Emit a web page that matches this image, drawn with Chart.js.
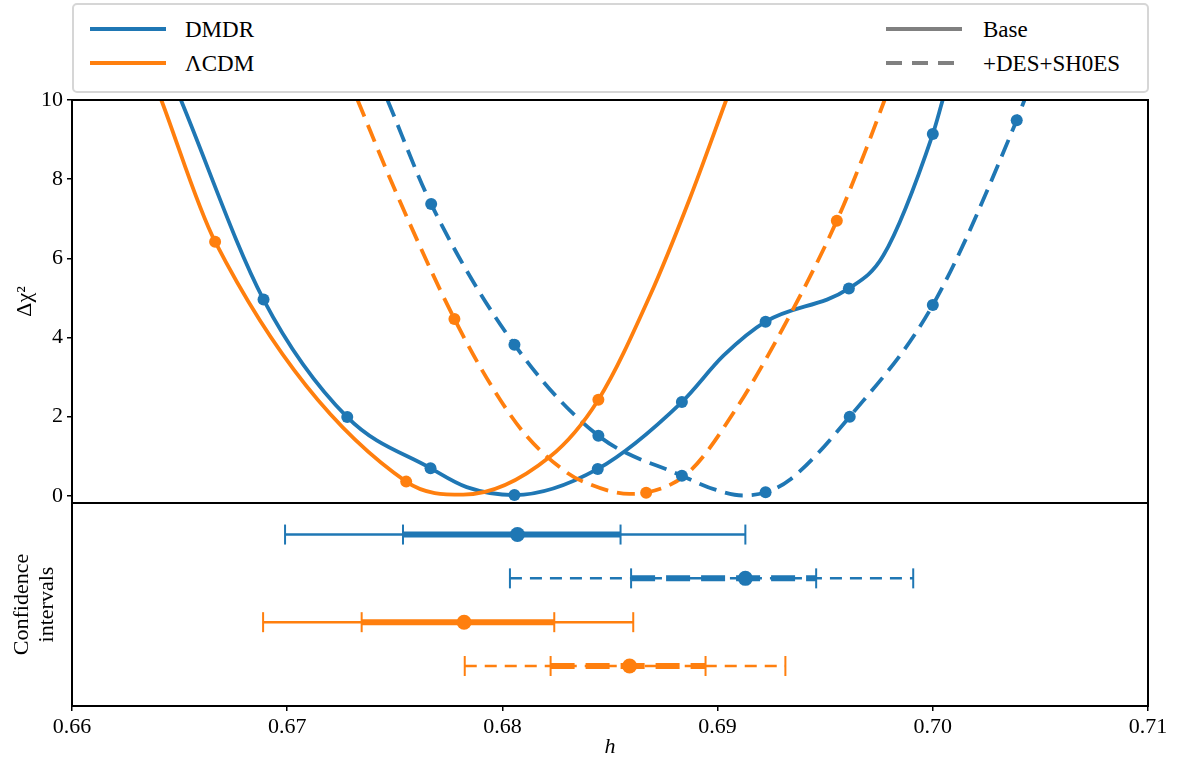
<!DOCTYPE html>
<html>
<head>
<meta charset="utf-8">
<script src="https://cdn.jsdelivr.net/npm/chart.js@4.4.1/dist/chart.umd.min.js"></script>
<style>
  html, body { margin: 0; padding: 0; background: #fff; }
  #wrap { position: relative; width: 1181px; height: 760px; overflow: hidden; }
  #c { position: absolute; left: 0; top: 0; }
  #legendBox { position: absolute; left: 72px; top: 3px; width: 1077px; height: 90px; box-sizing: border-box;
    border: 2px solid #d6d6d6; border-radius: 5px; background: #fff; }
  .lg { position: absolute; font-family: "Liberation Serif", "Times New Roman", serif; font-size: 23px;
    line-height: 26px; color: #000; white-space: nowrap; }
  .sw { position: absolute; }
</style>
</head>
<body>
<div id="wrap">
  <canvas id="c" width="1181" height="760"></canvas>
  <div id="legendBox"></div>
  <svg class="sw" style="left:90px;top:25px" width="76" height="8"><line x1="0" y1="4" x2="76" y2="4" stroke="#1f77b4" stroke-width="4"/></svg>
  <div class="lg" style="left:185px;top:17px">DMDR</div>
  <svg class="sw" style="left:90px;top:59px" width="76" height="8"><line x1="0" y1="4" x2="76" y2="4" stroke="#ff7f0e" stroke-width="4"/></svg>
  <div class="lg" style="left:185px;top:51px">ΛCDM</div>
  <svg class="sw" style="left:886px;top:25px" width="76" height="8"><line x1="0" y1="4" x2="76" y2="4" stroke="#808080" stroke-width="4"/></svg>
  <div class="lg" style="left:983px;top:17px">Base</div>
  <svg class="sw" style="left:886px;top:59px" width="76" height="8"><line x1="0" y1="4" x2="76" y2="4" stroke="#808080" stroke-width="4" stroke-dasharray="16 10"/></svg>
  <div class="lg" style="left:983px;top:51px">+DES+SH0ES</div>
</div>
<script>
// ---------- axes ----------
const xTicks = [0.66, 0.67, 0.68, 0.69, 0.70, 0.71];
const chiTicks = [0, 2, 4, 6, 8, 10];

// ---------- DMDR, Base (markers + extra points) ----------
const dmdrBaseH   = [0.66890, 0.67279, 0.67666, 0.68056, 0.68443, 0.68834, 0.69223, 0.69610, 0.70000];
const dmdrBaseChi = [4.96, 1.99, 0.70, 0.02, 0.68, 2.37, 4.40, 5.24, 9.14];
const dmdrBaseCurveH   = [0.66506, 0.67834, 0.69027, 0.69770, 0.70046];
const dmdrBaseCurveChi = [10.0, 0.22, 3.54, 6.07, 10.0];

// ---------- DMDR, +DES+SH0ES ----------
const dmdrDesH   = [0.67669, 0.68056, 0.68446, 0.68834, 0.69223, 0.69614, 0.70000, 0.70390];
const dmdrDesChi = [7.37, 3.82, 1.52, 0.51, 0.09, 2.00, 4.82, 9.49];
const dmdrDesCurveH   = [0.67466, 0.68993, 0.69119, 0.69334, 0.70426];
const dmdrDesCurveChi = [10.0, 0.15, 0.01, 0.40, 10.0];

// ---------- LCDM, Base ----------
const lcdmBaseH   = [0.66665, 0.67553, 0.68446];
const lcdmBaseChi = [6.42, 0.36, 2.43];
const lcdmBaseCurveH   = [0.66415, 0.67818, 0.68219, 0.68686, 0.68870, 0.69040];
const lcdmBaseCurveChi = [10.0, 0.03, 0.98, 5.06, 7.50, 10.0];

// ---------- LCDM, +DES+SH0ES ----------
const lcdmDesH   = [0.67777, 0.68668, 0.69554];
const lcdmDesChi = [4.47, 0.08, 6.95];
const lcdmDesCurveH   = [0.67327, 0.67499, 0.67958, 0.68111, 0.68297, 0.68376, 0.68591, 0.68870, 0.69086, 0.69305, 0.69690, 0.69776];
const lcdmDesCurveChi = [10.0, 7.75, 2.70, 1.52, 0.60, 0.36, 0.05, 0.62, 2.20, 4.25, 8.76, 10.0];

// ---------- confidence intervals (rows: DMDR base, DMDR+DES, LCDM base, LCDM+DES) ----------
const ciRow    = [4, 3, 2, 1];
const ciCenter = [0.68070, 0.69129, 0.67822, 0.68591];
const ci1Lo    = [0.67538, 0.68598, 0.67346, 0.68224];
const ci1Hi    = [0.68549, 0.69458, 0.68241, 0.68944];
const ci2Lo    = [0.66990, 0.68035, 0.66888, 0.67825];
const ci2Hi    = [0.69129, 0.69909, 0.68608, 0.69315];

// ---------- styling ----------
const FONT = '"Liberation Serif", "Times New Roman", serif';
const BLUE = '#1f77b4', ORANGE = '#ff7f0e';
const CURVE_DASH = [18, 9];
const CI_THIN_DASH = [12, 8];
const CI_THICK_DASH = [24, 11];

function pts(h, v) { return h.map((x, i) => ({ x: x, y: v[i] })); }
function curve(hA, vA, hB, vB) { return pts(hA.concat(hB), vA.concat(vB)).sort((a, b) => a.x - b.x); }

const series = [
  { h: dmdrBaseH, v: dmdrBaseChi, ch: dmdrBaseCurveH, cv: dmdrBaseCurveChi, color: BLUE,   dash: [],         order: 4 },
  { h: dmdrDesH,  v: dmdrDesChi,  ch: dmdrDesCurveH,  cv: dmdrDesCurveChi,  color: BLUE,   dash: CURVE_DASH, order: 3 },
  { h: lcdmBaseH, v: lcdmBaseChi, ch: lcdmBaseCurveH, cv: lcdmBaseCurveChi, color: ORANGE, dash: [],         order: 2 },
  { h: lcdmDesH,  v: lcdmDesChi,  ch: lcdmDesCurveH,  cv: lcdmDesCurveChi,  color: ORANGE, dash: CURVE_DASH, order: 1 }
];

const datasets = [];
series.forEach(s => {
  datasets.push({
    type: 'line', yAxisID: 'y', xAxisID: 'x', order: s.order,
    data: curve(s.h, s.v, s.ch, s.cv),
    borderColor: s.color, borderWidth: 3.8, borderDash: s.dash, borderCapStyle: 'butt',
    cubicInterpolationMode: 'monotone', pointRadius: 0, fill: false
  });
  datasets.push({
    type: 'scatter', yAxisID: 'y', xAxisID: 'x', order: 0,
    data: pts(s.h, s.v),
    pointRadius: 6, pointBackgroundColor: s.color, pointBorderWidth: 0, showLine: false
  });
});

const ciColors = [BLUE, BLUE, ORANGE, ORANGE];
const ciDashed = [false, true, false, true];
ciRow.forEach((r, i) => {
  const c = ciColors[i];
  datasets.push({
    type: 'line', yAxisID: 'y2', xAxisID: 'x', order: 3,
    data: [{ x: ci2Lo[i], y: r }, { x: ci2Hi[i], y: r }],
    borderColor: c, borderWidth: 2.5, borderDash: ciDashed[i] ? CI_THIN_DASH : [], borderCapStyle: 'butt',
    pointRadius: 0, tension: 0
  });
  datasets.push({
    type: 'line', yAxisID: 'y2', xAxisID: 'x', order: 2,
    data: [{ x: ci1Lo[i], y: r }, { x: ci1Hi[i], y: r }],
    borderColor: c, borderWidth: 6, borderDash: ciDashed[i] ? CI_THICK_DASH : [], borderCapStyle: 'butt',
    pointRadius: 0, tension: 0
  });
  datasets.push({
    type: 'scatter', yAxisID: 'y2', xAxisID: 'x', order: 1,
    data: [ci2Lo[i], ci1Lo[i], ci1Hi[i], ci2Hi[i]].map(x => ({ x: x, y: r })),
    pointStyle: 'line', pointRotation: 90, pointRadius: 10, pointBorderWidth: 2, pointBorderColor: c,
    showLine: false
  });
  datasets.push({
    type: 'scatter', yAxisID: 'y2', xAxisID: 'x', order: 0,
    data: [{ x: ciCenter[i], y: r }],
    pointRadius: 7.5, pointBackgroundColor: c, pointBorderWidth: 0, showLine: false
  });
});

const framePlugin = {
  id: 'frames',
  afterDatasetsDraw(chart) {
    const { ctx, chartArea: a, scales } = chart;
    ctx.save();
    ctx.strokeStyle = '#000';
    ctx.lineWidth = 2;
    ['y', 'y2'].forEach(id => {
      const s = scales[id];
      ctx.strokeRect(a.left, s.top, a.right - a.left, s.bottom - s.top);
    });
    ctx.restore();
  }
};

new Chart(document.getElementById('c'), {
  type: 'line',
  data: { datasets: datasets },
  options: {
    responsive: false,
    animation: false,
    devicePixelRatio: 1,
    layout: { padding: { top: 100, right: 33, left: 0, bottom: 0 } },
    plugins: { legend: { display: false }, tooltip: { enabled: false } },
    scales: {
      y2: {
        type: 'linear', position: 'left', stack: 'panels', stackWeight: 203,
        min: 0.087, max: 4.72, bounds: 'data',
        afterFit: s => { s.width = 72; },
        ticks: { display: false },
        grid: { display: false },
        border: { display: false },
        title: { display: true, text: ['Confidence', 'intervals'], color: '#000',
                 font: { family: FONT, size: 22, lineHeight: 1.14 }, padding: { top: 10, bottom: 0 } }
      },
      y: {
        type: 'linear', position: 'left', stack: 'panels', stackWeight: 403,
        min: -0.18, max: 10, bounds: 'data',
        afterBuildTicks: s => { s.ticks = chiTicks.map(v => ({ value: v })); },
        afterFit: s => { s.width = 72; },
        ticks: { callback: v => String(v), color: '#000', font: { family: FONT, size: 22 }, padding: 4 },
        grid: { drawOnChartArea: false, drawTicks: true, tickLength: 5, color: '#000', lineWidth: 1.5 },
        border: { display: false },
        title: { display: true, text: 'Δχ²', color: '#000', font: { family: FONT, size: 22 },
                 padding: { top: 12, bottom: 0 } }
      },
      x: {
        type: 'linear', position: 'bottom', min: 0.66, max: 0.71, bounds: 'data',
        afterBuildTicks: s => { s.ticks = xTicks.map(v => ({ value: v })); },
        afterFit: s => { s.height = 54; },
        ticks: { callback: v => Number(v).toFixed(2), color: '#000', font: { family: FONT, size: 22 },
                 padding: 3, maxRotation: 0, autoSkip: false },
        grid: { drawOnChartArea: false, drawTicks: true, tickLength: 5, color: '#000', lineWidth: 1.5 },
        border: { display: false },
        title: { display: true, text: 'h', color: '#000', font: { family: FONT, size: 22, style: 'italic' },
                 padding: { top: 0, bottom: 0 } }
      }
    }
  },
  plugins: [framePlugin]
});
</script>
</body>
</html>
